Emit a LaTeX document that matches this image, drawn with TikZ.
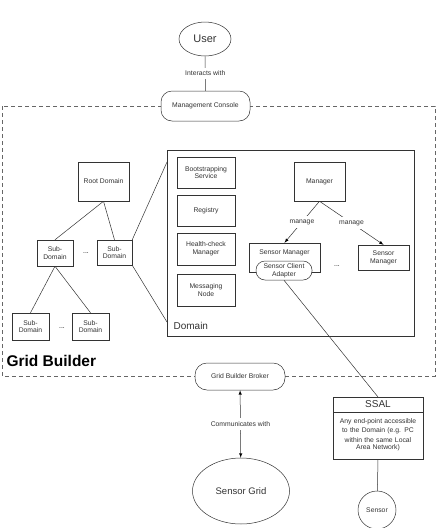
\documentclass[tikz,border=0pt]{standalone}
\usepackage{fontspec}
\setmainfont{Liberation Sans}
\usetikzlibrary{shapes.geometric,shapes.multipart}

\begin{document}
\begin{tikzpicture}[x=1pt,y=-1pt,>=latex,line width=0.5pt,draw=black!80,
    box/.style={draw,fill=white,inner sep=0pt,align=center,text=black!80,font=\fontsize{6.8}{7.8}\selectfont},
    pill/.style={box,rounded corners=11pt},
    edgelbl/.style={midway,fill=white,text=black!80,font=\fontsize{6.8}{7.8}\selectfont}]
  \useasboundingbox (0,0) rectangle (439,528);

  % grid builder area
  \draw[dashed,dash pattern=on 4pt off 3pt,black!60] (2,106) rectangle (435,376);
  \node[anchor=west,font=\fontsize{15.5}{17}\selectfont\bfseries] at (3,361) (gb) {Grid Builder};

  \node[box,ellipse,minimum width=52,minimum height=34,font=\fontsize{11}{13}\selectfont] at (205,39) (user) {User};
  \node[pill,minimum width=89,minimum height=30] at (205.5,106) (mc) {Management Console};

  % domain tree
  \node[box,minimum width=51,minimum height=39] at (103.5,181.5) (root) {Root Domain};
  \node[box,minimum width=36,minimum height=26] at (55,253) (sda) {Sub-\\Domain};
  \node[box,minimum width=35,minimum height=25] at (114.5,252.5) (sdb) {Sub-\\Domain};
  \node[box,minimum width=37,minimum height=27] at (30.5,326.5) (sdc) {Sub-\\Domain};
  \node[box,minimum width=37,minimum height=27] at (90.5,326.5) (sdd) {Sub-\\Domain};
  \node[font=\fontsize{6.8}{7.8}\selectfont] at (86,253) (dotsa) {...};
  \node[font=\fontsize{6.8}{7.8}\selectfont] at (62,328) (dotsb) {...};

  % domain
  \node[box,minimum width=247,minimum height=186] at (290.5,243) (dom) {};
  \node[anchor=west,font=\fontsize{10}{12}\selectfont,text=black!80] at (170,326) (domlbl) {Domain};
  \coordinate (dtop) at (167,162);
  \coordinate (dbot) at (167,322);
  \node[box,minimum width=58,minimum height=31] at (206,172.5) (boot) {Bootstrapping\\Service};
  \node[box,minimum width=58,minimum height=31] at (206,211) (reg) {Registry};
  \node[box,minimum width=58,minimum height=32] at (206,249) (health) {Health-check\\Manager};
  \node[box,minimum width=58,minimum height=32] at (206,290) (msg) {Messaging\\Node};
  \node[box,minimum width=51,minimum height=39] at (319.5,181.5) (mgr) {Manager};
  \node[box,minimum width=71,minimum height=29,label={[anchor=north,font=\fontsize{6.8}{7.8}\selectfont,text=black!80,yshift=-3pt]north:Sensor Manager}] at (284.5,257.5) (sma) {};
  \node[pill,rounded corners=9pt,minimum width=56,minimum height=19] at (284,270.5) (sca) {Sensor Client\\Adapter};
  \node[font=\fontsize{6.8}{7.8}\selectfont] at (337,266) (dotsc) {...};
  \node[box,minimum width=51,minimum height=25] at (383.5,257.5) (smb) {Sensor\\Manager};

  % outside
  \node[pill,rounded corners=12pt,minimum width=90,minimum height=27] at (240,376.5) (broker) {Grid Builder Broker};
  \node[box,ellipse,minimum width=97,minimum height=66,font=\fontsize{9.5}{11}\selectfont] at (241,491) (grid) {Sensor Grid};
  \node[box,rectangle split,rectangle split parts=2,text width=86pt,anchor=north,inner sep=2pt] at (378,397) (ssal)
    {\centering\fontsize{10}{11}\selectfont\rule[-2pt]{0pt}{10pt}SSAL
     \nodepart{two}\centering\fontsize{6.8}{9.5}\selectfont\rule{0pt}{9pt}Any end-point accessible\\to the Domain (e.g. PC\\within the same Local\\Area Network)\rule[-7pt]{0pt}{7pt}};
  \node[box,circle,minimum size=38] at (377,510) (sensor) {Sensor};

  % draw edges
  \draw (user) -- node[edgelbl] {Interacts with} (mc);
  \draw (root.south) -- (sda.north);
  \draw (root.south) -- (sdb.north);
  \draw (sda.south) -- (sdc.north);
  \draw (sda.south) -- (sdd.north);
  \draw (sdb.north east) -- (dtop);
  \draw (sdb.south east) -- (dbot);
  \draw[->] (mgr.south) -- node[edgelbl] {manage} (sma.north);
  \draw[->] (mgr.south) -- node[edgelbl] {manage} (smb.north);
  \draw (sca.south) -- (ssal.north);
  \draw[<->] (broker) -- node[edgelbl] {Communicates with} (grid);
  \draw (ssal.south) -- (sensor);
\end{tikzpicture}
\end{document}
